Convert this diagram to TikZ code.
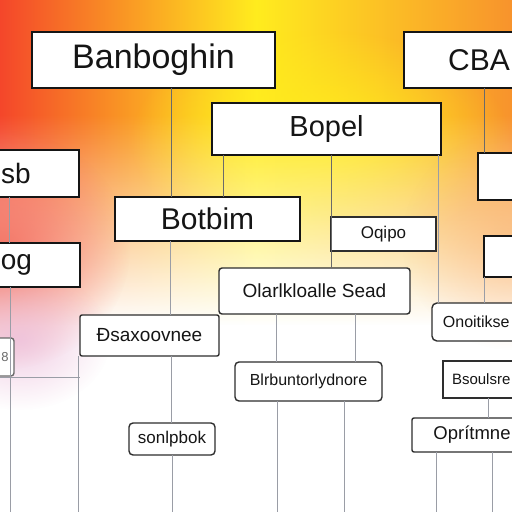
\documentclass[tikz,border=0pt]{standalone}
\usepackage{fontspec}
\setmainfont{Liberation Sans}
\usetikzlibrary{fadings}
\definecolor{SkyRed}{HTML}{F4462A}
\definecolor{SunYellow}{HTML}{FFEC1E}
\definecolor{RightOrange}{HTML}{F8932C}
\definecolor{Salmon}{HTML}{F47666}
\definecolor{Blush}{HTML}{EDBFDC}
\definecolor{Ink}{HTML}{151515}
\definecolor{InkSoft}{HTML}{2E2E2E}
\definecolor{LinkDark}{HTML}{6A6A6A}
\definecolor{LinkGray}{HTML}{9A9DA6}

\tikzfading[name=fade down, top color=transparent!100, bottom color=transparent!0]
\tikzfading[name=glow, inner color=transparent!0, outer color=transparent!100]

\begin{document}
\begin{tikzpicture}[
    x=1pt, y=-1pt,
    box/.style={draw=Ink, fill=white, line width=2.2pt, inner sep=0pt,
        outer sep=0pt, text=Ink},
    tag/.style={draw=InkSoft, fill=white, line width=1.4pt, inner sep=0pt,
        outer sep=0pt, text=Ink},
    link/.style={draw=LinkDark, line width=1pt},
    faint/.style={draw=LinkGray, line width=0.9pt},
]
\useasboundingbox (0,0) rectangle (512,512);
\clip (0,0) rectangle (512,512);

% fondo
\shade[left color=SkyRed, right color=RightOrange, middle color=SunYellow]
    (0,0) rectangle (512,512);
\fill[SunYellow, path fading=glow] (320,140) ellipse (190 and 110);
\fill[white, path fading=fade down] (0,115) rectangle (512,325);
\fill[white] (0,325) rectangle (512,512);
\fill[Salmon, path fading=glow] (0,250) ellipse (130 and 120);
\fill[Blush, fill opacity=0.8, path fading=glow] (20,340) ellipse (90 and 70);
\fill[RightOrange!70, fill opacity=0.5, path fading=glow] (512,240) ellipse (110 and 110);

\coordinate (floor) at (0,512);
\coordinate (edge) at (0,377);

% cajas de arriba
\node[box, minimum width=243, minimum height=56, font=\fontsize{34}{34}\selectfont] (ban) at (153.5,60) {Banboghin};
\node[box, minimum width=150, minimum height=56, font=\fontsize{30}{30}\selectfont] (cba) at (479,60) {CBA};
\node[box, minimum width=229, minimum height=52, font=\fontsize{29}{29}\selectfont] (bop) at (326.5,129) {Bopel};
\node[box, line width=2pt, minimum width=126, minimum height=47, font=\fontsize{28}{28}\selectfont] (sb) at (16,173.5) {sb};
\node[box, minimum width=82, minimum height=47] (rb1) at (519,176.5) {};
\node[box, line width=2pt, minimum width=185, minimum height=44, font=\fontsize{30}{30}\selectfont] (bot) at (207.5,219) {Botbim};
\node[box, line width=2pt, minimum width=127, minimum height=44, font=\fontsize{28}{28}\selectfont] (og) at (16.5,265) {og};
\node[box, minimum width=76, minimum height=41] (rb2) at (522,256.5) {};

% cajas de abajo
\node[tag, line width=1.8pt, minimum width=105, minimum height=34, font=\fontsize{17}{17}\selectfont] (oqi) at (383.5,234) {Oqipo};
\node[tag, rounded corners=3pt, minimum width=191, minimum height=46, font=\fontsize{19}{19}\selectfont] (olar) at (314.5,291) {Olarlkloalle Sead};
\node[tag, rounded corners=2pt, minimum width=139, minimum height=41, font=\fontsize{19}{19}\selectfont] (osx) at (149.5,335.5) {Ðsaxoovnee};
\node[tag, draw=LinkDark, rounded corners=3pt, minimum width=18, minimum height=38, text=LinkDark, font=\fontsize{13}{13}\selectfont] (sm) at (5,357) {8};
\node[tag, rounded corners=5pt, minimum width=88.7, minimum height=38, font=\fontsize{16}{16}\selectfont] (onoi) at (476.3,322) {Onoitikse};
\node[tag, rounded corners=4pt, minimum width=147, minimum height=39, font=\fontsize{16}{16}\selectfont] (blr) at (308.5,381.5) {Blrbuntorlydnore};
\node[tag, minimum width=76.4, minimum height=37, font=\fontsize{15}{15}\selectfont] (bsou) at (481.2,379.5) {Bsoulsre};
\node[tag, rounded corners=4pt, minimum width=86, minimum height=32, font=\fontsize{17}{17}\selectfont] (sonl) at (172,439) {sonlpbok};
\node[tag, rounded corners=2pt, minimum width=120, minimum height=34, font=\fontsize{18.5}{18.5}\selectfont] (opr) at (472,435) {Oprítmne};

% conectores
\draw[link] ([xshift=17.5pt]ban.south) -- ([xshift=17.5pt]ban.south |- bot.north);
\draw[link] ([xshift=-103.5pt]bop.south) -- ([xshift=-103.5pt]bop.south |- bot.north);
\draw[link] (oqi.west |- bop.south) -- (oqi.west |- olar.north);
\draw[faint] ([xshift=111.5pt]bop.south) -- ([xshift=111.5pt]bop.south |- onoi.north);
\draw[link] ([xshift=5pt]cba.south) -- ([xshift=5pt]cba.south |- rb1.north);
\draw[faint] ([xshift=-38pt]rb2.south) -- ([xshift=-38pt]rb2.south |- onoi.north);
\draw[faint] ([xshift=-7pt]sb.south) -- ([xshift=-7pt]sb.south |- og.north);
\draw[faint] ([xshift=-6.5pt]og.south) -- ([xshift=-6.5pt]og.south |- floor);
\draw[faint] ([xshift=-2pt]osx.south west) -- ([xshift=-2pt]osx.south west |- floor);
\draw[faint] (edge) -- (edge -| osx.south west);
\draw[faint] ([xshift=-37.5pt]bot.south) -- ([xshift=-37.5pt]bot.south |- osx.north);
\draw[faint] ([xshift=21.5pt]osx.south) -- ([xshift=21.5pt]osx.south |- sonl.north);
\draw[faint] (sonl.south) -- (sonl.south |- floor);
\draw[faint] ([xshift=-38.5pt]olar.south) -- ([xshift=-38.5pt]olar.south |- blr.north);
\draw[faint] ([xshift=40.5pt]olar.south) -- ([xshift=40.5pt]olar.south |- blr.north);
\draw[faint] ([xshift=-31.5pt]blr.south) -- ([xshift=-31.5pt]blr.south |- floor);
\draw[faint] ([xshift=35.5pt]blr.south) -- ([xshift=35.5pt]blr.south |- floor);
\draw[faint] ([xshift=6.8pt]bsou.south) -- ([xshift=6.8pt]bsou.south |- opr.north);
\draw[faint] ([xshift=-36pt]opr.south) -- ([xshift=-36pt]opr.south |- floor);
\draw[faint] ([xshift=20pt]opr.south) -- ([xshift=20pt]opr.south |- floor);

\end{tikzpicture}
\end{document}
